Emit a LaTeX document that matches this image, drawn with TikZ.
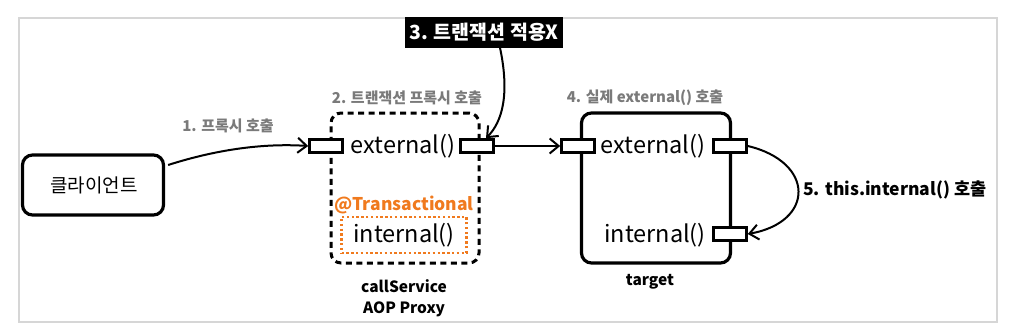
\documentclass[tikz,border=0pt]{standalone}
\usepackage{fontspec}
\setmainfont{Noto Sans CJK KR}
\usetikzlibrary{arrows.meta}
\definecolor{lblgray}{HTML}{7A7A7A}
\definecolor{orng}{HTML}{F07A1E}
\definecolor{framegray}{HTML}{D6D6D6}
\tikzset{
  box/.style={draw=black, line width=3.2pt, rounded corners=10pt, inner sep=0pt},
  dbox/.style={draw=black, line width=3pt, dash pattern=on 6pt off 4.5pt, rounded corners=10pt, inner sep=0pt},
  port/.style={draw=black, fill=white, line width=2.6pt, minimum width=33pt, minimum height=13pt, inner sep=0pt},
  meth/.style={font=\fontsize{23.5}{26}\selectfont, inner sep=0pt},
  glabel/.style={font=\fontsize{15}{18}\selectfont\bfseries, text=lblgray, inner sep=0pt},
  blabel/.style={font=\fontsize{15.5}{18}\selectfont\bfseries, text=black, inner sep=0pt, align=center},
  conn/.style={line width=2pt, -{Straight Barb[length=9pt, width=15pt, line width=2pt]}},
}
\begin{document}
\begin{tikzpicture}[x=1pt, y=-1pt]
\useasboundingbox (0,0) rectangle (1012,332);
\draw[framegray, line width=1.4pt] (19,18) rectangle (997,322);

% client
\node[box, minimum width=141pt, minimum height=60pt] (client) at (93,185) {};
\node[font=\fontsize{19}{22}\selectfont, inner sep=0pt] (clientt) at (94,185) {클라이언트};

% proxy
\node[dbox, minimum width=148pt, minimum height=150pt] (proxy) at (405,188) {};
\node[port] (pl) at (326,146) {};
\node[port] (pr) at (477,146) {};
\node[meth] (pext) at (403,146) {external()};
\node[font=\fontsize{17.5}{20}\selectfont\bfseries, text=orng, inner sep=0pt] (trans) at (404,205) {@Transactional};
\node[draw=orng, line width=2.6pt, dash pattern=on 2.4pt off 2.4pt, minimum width=125pt, minimum height=36pt, inner sep=0pt] (pintbox) at (404,235) {};
\node[meth] (pint) at (404,235) {internal()};
\node[blabel] (pname) at (404,298) {callService\\[3pt]AOP Proxy};
\node[glabel] (l2) at (407,98) {2. 트랜잭션 프록시 호출};

% target
\node[box, minimum width=149pt, minimum height=150pt] (target) at (656,188) {};
\node[port] (tl) at (578,146) {};
\node[port] (tr) at (730,146) {};
\node[port] (tr2) at (730,234) {};
\node[meth] (text) at (653,146) {external()};
\node[meth] (tint) at (655,235) {internal()};
\node[blabel] (tname) at (650,282) {target};
\node[glabel] (l4) at (645,98) {4. 실제 external() 호출};

% labels
\node[glabel] (l1) at (228,126) {1. 프록시 호출};
\node[fill=black, text=white, font=\fontsize{19.5}{22}\selectfont\bfseries, minimum width=158pt, minimum height=31pt, inner sep=0pt] (l3) at (484,32) {3. 트랜잭션 적용X};
\node[blabel, font=\fontsize{17.5}{20}\selectfont\bfseries, anchor=west] (l5) at (803,190) {5. this.internal() 호출};

% connectors
\draw[conn] ([xshift=3pt, yshift=20pt]client.east) .. controls (215,150) and (262,143) .. (pl.west);
\draw[conn] (pr.east) -- (tl.west);
\draw[conn] ([xshift=16pt]l3.south) .. controls (510,95) and (502,122) .. ([xshift=9pt]pr.north);
\draw[conn] (tr.east) .. controls (815,162) and (815,222) .. (tr2.east);
\end{tikzpicture}
\end{document}
